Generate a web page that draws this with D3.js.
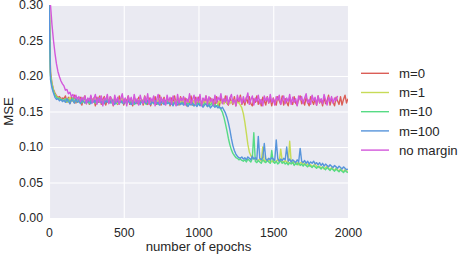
<!DOCTYPE html>
<html>
<head>
<meta charset="utf-8">
<script src="https://cdn.jsdelivr.net/npm/d3@7"></script>
<style>
  body { margin: 0; background: #fff; }
  text { font-family: "Liberation Sans", Arial, sans-serif; fill: #262626; }
</style>
</head>
<body>
<svg id="chart"></svg>
<script>
// one value every 10 epochs
var epochStep = 10;
var xTicks = [0, 500, 1000, 1500, 2000];
var yTicks = [0, 0.05, 0.10, 0.15, 0.20, 0.25, 0.30];
var seriesNames = ["m=0", "m=1", "m=10", "m=100", "no margin"];
var seriesColors = ["#db5e57", "#c7db57", "#57db85", "#5794db", "#d357db"];

var mseM0 = [
  .330, .205, .190, .181, .176, .172, .170, .171, .168, .169,
  .168, .172, .163, .170, .161, .171, .165, .173, .162, .169,
  .164, .170, .159, .168, .172, .161, .167, .160, .171, .165,
  .169, .158, .170, .163, .172, .160, .167, .171, .159, .168,
  .162, .171, .166, .158, .170, .164, .160, .172, .163, .169,
  .159, .168, .164, .172, .160, .167, .158, .170, .165, .161,
  .170, .162, .167, .159, .172, .164, .160, .169, .158, .167,
  .163, .171, .160, .166, .173, .159, .165, .170, .161, .168,
  .166, .158, .169, .162, .172, .160, .167, .159, .171, .164,
  .160, .169, .158, .167, .163, .172, .159, .165, .170, .161,
  .170, .162, .159, .168, .161, .172, .164, .158, .169, .163,
  .167, .159, .171, .163, .158, .170, .165, .161, .172, .162,
  .159, .169, .164, .160, .171, .158, .167, .163, .173, .160,
  .166, .159, .170, .162, .171, .161, .158, .168, .163, .172,
  .160, .167, .158, .170, .165, .159, .171, .162, .168, .158,
  .169, .162, .159, .171, .165, .160, .172, .159, .168, .163,
  .158, .170, .164, .160, .171, .162, .159, .168, .172, .161,
  .166, .159, .170, .163, .158, .171, .165, .160, .168, .159,
  .172, .162, .167, .158, .170, .161, .165, .173, .159, .168,
  .163, .158, .170, .165, .160, .171, .159, .167, .173, .162,
  .168
];

var mseM1 = [
  .320, .202, .188, .180, .174, .171, .169, .167, .168, .166,
  .165, .168, .163, .167, .170, .164, .166, .162, .168, .165,
  .163, .167, .164, .169, .162, .166, .164, .168, .163, .165,
  .168, .162, .166, .164, .169, .163, .165, .161, .167, .164,
  .166, .163, .168, .162, .165, .167, .161, .166, .164, .169,
  .163, .165, .162, .167, .164, .166, .161, .168, .163, .165,
  .167, .162, .164, .166, .161, .168, .163, .165, .162, .167,
  .164, .161, .166, .163, .168, .162, .165, .163, .160, .166,
  .163, .167, .162, .164, .161, .166, .163, .168, .162, .164,
  .166, .161, .164, .162, .167, .163, .160, .165, .162, .166,
  .162, .165, .161, .167, .163, .164, .160, .166, .162, .164,
  .161, .166, .163, .160, .165, .162, .164, .161, .166, .162,
  .163, .161, .164, .162, .165, .161, .163, .162, .159, .155,
  .147, .135, .120, .104, .093, .088, .085, .084, .083, .082,
  .081, .083, .080, .100, .079, .081, .083, .080, .082, .079,
  .081, .078, .080, .082, .079, .097, .080, .078, .081, .079,
  .077, .108, .079, .077, .080, .076, .078, .075, .077, .079,
  .075, .077, .074, .076, .073, .075, .072, .074, .076, .073,
  .071, .073, .070, .072, .069, .071, .073, .070, .068, .071,
  .069, .067, .070, .068, .066, .069, .067, .065, .068, .066,
  .066
];

var mseM10 = [
  .320, .200, .186, .178, .173, .170, .168, .169, .166, .167,
  .165, .168, .164, .167, .163, .166, .169, .164, .166, .163,
  .167, .164, .162, .166, .168, .163, .165, .161, .167, .164,
  .166, .162, .165, .168, .163, .164, .161, .166, .164, .167,
  .163, .165, .162, .166, .164, .161, .167, .163, .165, .162,
  .166, .163, .161, .165, .167, .162, .164, .160, .166, .163,
  .164, .161, .166, .163, .165, .160, .164, .162, .166, .163,
  .161, .165, .163, .160, .164, .162, .166, .161, .163, .165,
  .162, .160, .164, .161, .163, .159, .164, .162, .160, .163,
  .161, .163, .159, .162, .160, .164, .161, .158, .162, .160,
  .163, .159, .161, .158, .162, .160, .157, .161, .159, .162,
  .158, .160, .157, .159, .156, .153, .149, .142, .133, .123,
  .112, .103, .096, .091, .088, .085, .084, .082, .083, .081,
  .080, .082, .079, .083, .081, .079, .084, .120, .080, .078,
  .081, .079, .077, .082, .080, .078, .081, .079, .077, .095,
  .079, .077, .080, .076, .078, .081, .077, .079, .076, .078,
  .075, .078, .076, .079, .074, .077, .075, .078, .074, .076,
  .073, .076, .074, .072, .075, .073, .071, .074, .072, .070,
  .073, .071, .069, .072, .070, .068, .071, .069, .067, .070,
  .068, .066, .069, .067, .065, .068, .066, .064, .067, .065,
  .064
];

var mseM100 = [
  .310, .195, .183, .176, .170, .167, .168, .165, .167, .164,
  .166, .163, .168, .164, .161, .167, .165, .162, .168, .163,
  .165, .161, .167, .164, .162, .166, .163, .168, .161, .165,
  .163, .166, .161, .165, .168, .162, .164, .161, .166, .163,
  .165, .162, .167, .163, .160, .166, .164, .161, .165, .163,
  .161, .166, .163, .165, .162, .160, .165, .163, .161, .166,
  .163, .160, .165, .162, .164, .161, .166, .162, .160, .164,
  .162, .165, .161, .163, .159, .164, .162, .160, .165, .161,
  .163, .160, .162, .158, .163, .161, .159, .164, .160, .162,
  .159, .162, .160, .157, .161, .159, .162, .158, .160, .157,
  .161, .158, .160, .156, .159, .161, .157, .159, .155, .158,
  .159, .156, .158, .155, .157, .154, .156, .152, .148, .142,
  .134, .124, .112, .102, .095, .090, .087, .085, .084, .086,
  .083, .085, .082, .086, .084, .082, .087, .083, .085, .082,
  .115, .084, .082, .085, .105, .083, .081, .084, .082, .085,
  .083, .081, .110, .084, .080, .083, .081, .084, .082, .100,
  .080, .083, .079, .082, .080, .078, .082, .079, .098, .080,
  .078, .081, .077, .080, .076, .079, .077, .080, .076, .078,
  .075, .078, .074, .077, .073, .076, .074, .072, .075, .073,
  .071, .074, .072, .070, .073, .071, .069, .072, .070, .068,
  .069
];

// this run stops at epoch 1930
var mseNoMargin = [
  .400, .300, .272, .250, .232, .217, .206, .199, .193, .189,
  .186, .180, .181, .175, .177, .171, .174, .169, .173, .167,
  .171, .164, .170, .166, .172, .161, .169, .165, .173, .162,
  .168, .174, .160, .170, .163, .172, .158, .169, .166, .174,
  .161, .171, .165, .159, .173, .163, .170, .160, .168, .175,
  .162, .169, .158, .172, .164, .170, .160, .174, .163, .168,
  .159, .173, .165, .161, .171, .163, .175, .160, .169, .164,
  .172, .158, .167, .174, .161, .170, .163, .168, .159, .173,
  .164, .170, .160, .172, .166, .158, .174, .162, .169, .165,
  .171, .159, .168, .163, .175, .161, .167, .173, .160, .170,
  .163, .174, .158, .169, .165, .172, .160, .171, .164, .168,
  .159, .173, .162, .170, .166, .175, .161, .168, .163, .172,
  .160, .169, .174, .162, .167, .158, .173, .165, .170, .161,
  .171, .163, .168, .176, .160, .166, .172, .159, .169, .164,
  .173, .161, .167, .158, .172, .165, .170, .162, .174, .163,
  .168, .159, .171, .166, .173, .160, .167, .172, .161, .169,
  .164, .174, .160, .170, .163, .168, .158, .172, .166, .171,
  .161, .169, .175, .162, .167, .160, .173, .165, .170, .159,
  .172, .163, .168, .161, .174, .166, .159, .170, .164, .171,
  .162, .169, .165, .172
];

var allSeries = [mseM0, mseM1, mseM10, mseM100, mseNoMargin];

var width = 460;
var height = 254;
var margin = { top: 5, right: 112, bottom: 36, left: 49 };
var plotW = width - margin.left - margin.right;
var plotH = height - margin.top - margin.bottom;

var svg = d3.select("#chart")
  .attr("width", width)
  .attr("height", height);

var x = d3.scaleLinear().domain([0, 2000]).range([0, plotW]);
var y = d3.scaleLinear().domain([0, 0.30]).range([plotH, 0]);

var g = svg.append("g")
  .attr("transform", "translate(" + margin.left + "," + margin.top + ")");

g.append("rect")
  .attr("width", plotW)
  .attr("height", plotH)
  .attr("fill", "#eaeaf2");

svg.append("defs").append("clipPath")
  .attr("id", "plotclip")
  .append("rect")
  .attr("width", plotW)
  .attr("height", plotH);

var xAxis = g.append("g")
  .attr("transform", "translate(0," + plotH + ")")
  .call(d3.axisBottom(x).tickValues(xTicks).tickSize(-plotH).tickPadding(10.5)
    .tickFormat(d3.format("d")));

var yAxis = g.append("g")
  .call(d3.axisLeft(y).tickValues(yTicks).tickSize(-plotW).tickPadding(6)
    .tickFormat(d3.format(".2f")));

[xAxis, yAxis].forEach(function (a) {
  a.select(".domain").remove();
  a.selectAll(".tick line").attr("stroke", "#ffffff").attr("stroke-width", 1.1);
  a.selectAll(".tick text")
    .attr("fill", "#262626")
    .style("font-size", "12.3px")
    .style("font-family", "'Liberation Sans', Arial, sans-serif");
});

var line = d3.line()
  .x(function (d, i) { return x(i * epochStep); })
  .y(function (d) { return y(d); });

g.append("g")
  .attr("clip-path", "url(#plotclip)")
  .selectAll("path")
  .data(allSeries)
  .enter()
  .append("path")
  .attr("d", line)
  .attr("fill", "none")
  .attr("stroke", function (d, i) { return seriesColors[i]; })
  .attr("stroke-width", 1.4)
  .attr("stroke-linejoin", "round");

svg.append("text")
  .attr("x", margin.left + plotW / 2)
  .attr("y", 251)
  .attr("text-anchor", "middle")
  .style("font-size", "13.2px")
  .text("number of epochs");

svg.append("text")
  .attr("transform", "translate(12.5," + (margin.top + plotH / 2) + ") rotate(-90)")
  .attr("text-anchor", "middle")
  .style("font-size", "13.2px")
  .text("MSE");

var legend = svg.append("g")
  .selectAll("g")
  .data(seriesNames)
  .enter()
  .append("g")
  .attr("transform", function (d, i) { return "translate(361," + (73.3 + i * 19.2) + ")"; });

legend.append("line")
  .attr("x1", 0)
  .attr("x2", 28)
  .attr("stroke", function (d, i) { return seriesColors[i]; })
  .attr("stroke-width", 1.4);

legend.append("text")
  .attr("x", 38)
  .attr("dy", "0.35em")
  .style("font-size", "13.2px")
  .text(function (d) { return d; });
</script>
</body>
</html>
